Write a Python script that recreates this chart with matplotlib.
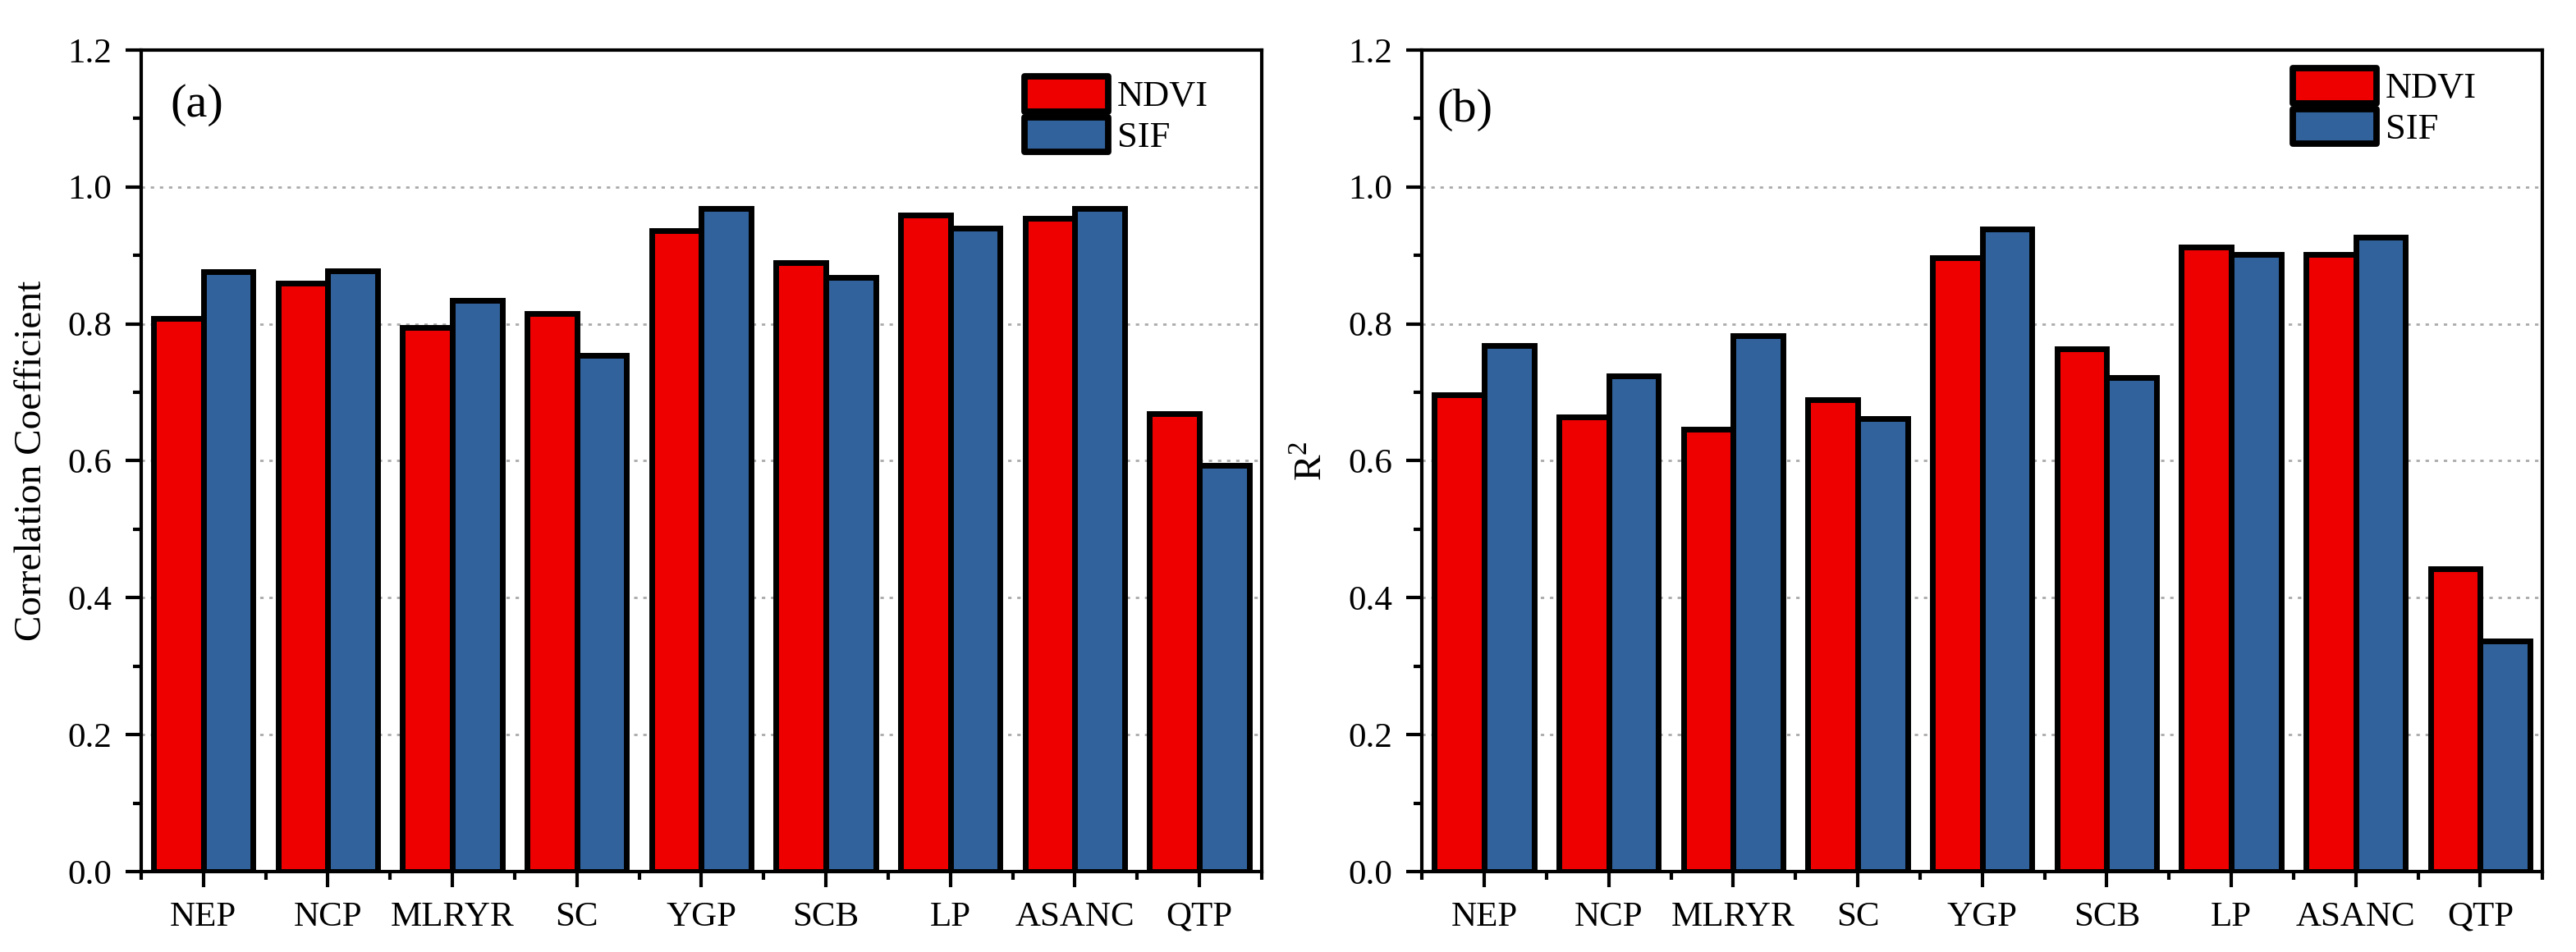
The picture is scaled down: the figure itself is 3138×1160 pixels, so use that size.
import numpy as np
import matplotlib
matplotlib.use("Agg")
import matplotlib.pyplot as plt
from matplotlib.ticker import MultipleLocator, FixedLocator

regions = ["NEP", "NCP", "MLRYR", "SC", "YGP", "SCB", "LP", "ASANC", "QTP"]
cc_ndvi = [0.808, 0.860, 0.795, 0.815, 0.936, 0.890, 0.959, 0.954, 0.669]
cc_sif = [0.876, 0.878, 0.834, 0.754, 0.969, 0.868, 0.940, 0.969, 0.593]
r2_ndvi = [0.697, 0.664, 0.646, 0.689, 0.897, 0.764, 0.912, 0.901, 0.442]
r2_sif = [0.768, 0.724, 0.783, 0.662, 0.939, 0.721, 0.901, 0.926, 0.337]

plt.rcParams['font.family'] = ['Liberation Serif', 'DejaVu Serif']
plt.rcParams['mathtext.fontset'] = 'custom'
plt.rcParams['mathtext.rm'] = 'Liberation Serif'

RED = "#EE0000"
BLUE = "#31629B"

fig = plt.figure(figsize=(15.69, 5.8), dpi=200)
ax1 = fig.add_axes([0.0548, 0.0845, 0.435, 0.863])
ax2 = fig.add_axes([0.552, 0.0845, 0.435, 0.863])

x = np.arange(len(regions))
w = 0.4

def draw(ax, nd, sf, ylabel, tag, leg_xy, tag_xy):
    ax.bar(x - w / 2, nd, w, color=RED, edgecolor='black', linewidth=2.5,
           label='NDVI', zorder=3)
    ax.bar(x + w / 2, sf, w, color=BLUE, edgecolor='black', linewidth=2.5,
           label='SIF', zorder=3)
    ax.set_xlim(-0.5, len(regions) - 0.5)
    ax.set_ylim(0, 1.2)
    ax.yaxis.set_major_locator(MultipleLocator(0.2))
    ax.yaxis.set_minor_locator(MultipleLocator(0.1))
    ax.set_yticklabels([f"{v:.1f}" for v in ax.get_yticks()])
    ax.set_xticks(x)
    ax.set_xticklabels(regions)
    ax.xaxis.set_minor_locator(FixedLocator(np.arange(-0.5, len(regions), 1.0)))
    ax.tick_params(axis='both', which='major', direction='out', length=7,
                   width=1.5, labelsize=15.5, pad=6)
    ax.tick_params(axis='both', which='minor', direction='out', length=3.6,
                   width=1.5)
    for s in ax.spines.values():
        s.set_linewidth(1.5)
    for gy in [0.2, 0.4, 0.6, 0.8, 1.0]:
        ax.axhline(gy, color='#AAAAAA', linestyle=(0, (1.5, 2.5)), linewidth=1.0,
                   zorder=1)
    ax.set_ylabel(ylabel, fontsize=17, labelpad=8)
    ax.text(tag_xy[0], tag_xy[1], tag, transform=ax.transAxes, fontsize=21,
            va='center', ha='left')
    leg = ax.legend(loc='upper left', bbox_to_anchor=leg_xy, frameon=False,
                    fontsize=16, handlelength=2.3, handleheight=1.1,
                    labelspacing=0.1, handletextpad=0.25, borderpad=0,
                    borderaxespad=0)
    for p in leg.get_patches():
        p.set_linewidth(2.8)
        p.set_joinstyle('round')

draw(ax1, cc_ndvi, cc_sif, "Correlation Coefficient", "(a)",
     (0.788, 0.968), (0.026, 0.933))
draw(ax2, r2_ndvi, r2_sif, r"R$^2$", "(b)",
     (0.777, 0.978), (0.013, 0.927))

fig.savefig("out.png", dpi=200)
